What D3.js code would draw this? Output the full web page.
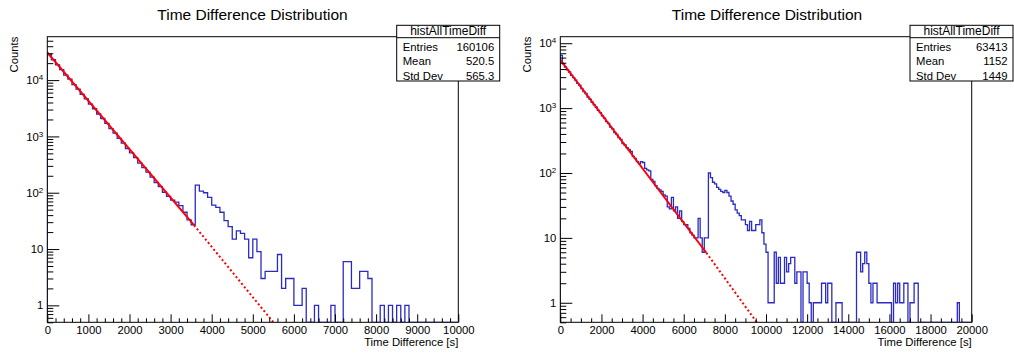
<!DOCTYPE html>
<html>
<head>
<meta charset="utf-8">
<script src="https://cdn.jsdelivr.net/npm/d3@7"></script>
<style>
  body { margin: 0; background: #fff; }
  text { font-family: "Liberation Sans", Arial, Helvetica, sans-serif; fill: #000; }
</style>
</head>
<body>
<svg id="chart" width="1014" height="354"></svg>
<script>
// histogram bins are 100 s wide
const binWidth = 100;

// left canvas: 100 bins, 0 - 10000 s
const leftCounts = [
  28500, 23000, 18600, 15400, 12300, 10400, 8300, 6900, 5600, 4650,
  3750, 3100, 2500, 2080, 1700, 1370, 1140, 920, 760, 610,
  510, 420, 335, 280, 232, 190, 152, 128, 102, 86,
  74, 68, 59, 45, 33, 27, 137, 107, 100, 83,
  60, 55, 45, 32, 25, 15, 21, 19, 15, 7,
  15, 9, 3, 4, 4, 4, 8, 2, 3, 3,
  1, 1, 2, 0, 0, 1, 0, 0, 0, 1,
  0, 0, 6, 6, 2, 2, 4, 4, 3, 0,
  0, 1, 0, 1, 0, 1, 0, 1, 0, 0,
  0, 0, 0, 0, 0, 0, 0, 0, 0, 0
];

// right canvas: 200 bins, 0 - 20000 s
const rightCounts = [
  6500, 4800, 4300, 3900, 3600, 3200, 2950, 2700, 2400, 2250,
  2000, 1800, 1680, 1480, 1370, 1230, 1120, 1030, 920, 850,
  760, 700, 620, 580, 510, 480, 420, 395, 350, 330,
  285, 270, 245, 230, 215, 180, 168, 150, 140, 150,
  145, 118, 112, 108, 80, 74, 64, 58, 55, 52,
  46, 44, 30, 28, 42, 26, 30, 20, 26, 18,
  16, 16, 14, 12, 11, 10, 10, 20, 10, 6,
  10, 10, 100, 85, 72, 68, 60, 56, 52, 50,
  54, 50, 44, 37, 33, 27, 24, 22, 19, 19,
  16, 13, 18, 13, 13, 16, 16, 19, 12, 8,
  6, 1, 1, 1, 6, 2, 5, 2, 2, 5,
  3, 4, 5, 5, 2, 3, 3, 0, 3, 3,
  2, 1, 0, 1, 1, 1, 1, 2, 2, 1,
  2, 2, 0, 0, 1, 1, 1, 0, 0, 0,
  0, 0, 0, 0, 6, 6, 3, 4, 6, 4,
  2, 1, 2, 2, 1, 1, 1, 1, 1, 1,
  1, 0, 2, 1, 2, 1, 1, 2, 2, 0,
  1, 1, 2, 2, 0, 0, 0, 0, 0, 0,
  0, 0, 0, 0, 0, 0, 0, 0, 0, 0,
  0, 0, 0, 1, 0, 0, 0, 0, 0, 0
];

// exponential fits (straight on log axis): fitted range solid, extension dotted
const leftFitSolid = [[0, 31000], [3570, 26.5]];
const leftFitDotted = [[3570, 26.5], [5500, 0.5]];
const rightFitSolid = [[0, 5550], [7100, 5.9]];
const rightFitDotted = [[7100, 5.9], [9550, 0.5]];

const statLabels = ["Entries", "Mean", "Std Dev"];
const leftStats = ["160106", "520.5", "565.3"];
const rightStats = ["63413", "1152", "1449"];

const leftXTicks = [0, 1000, 2000, 3000, 4000, 5000, 6000, 7000, 8000, 9000, 10000];
const rightXTicks = [0, 2000, 4000, 6000, 8000, 10000, 12000, 14000, 16000, 18000, 20000];
const yDecades = [1, 10, 100, 1000, 10000];

const histName = "histAllTimeDiff";
const titleText = "Time Difference Distribution";

const svg = d3.select('#chart');

function drawPanel(p) {
  let g = svg.append('g');
  let x = d3.scaleLinear().domain([0, p.xMax]).range([p.left, p.right]);
  let y = d3.scaleLog().domain([0.5, p.yMax]).range([p.bottom, p.top]);

  g.append('text')
    .attr('x', p.titleX).attr('y', 20)
    .attr('text-anchor', 'middle')
    .style('font-size', '15.5px')
    .text(titleText);

  svg.append('clipPath').attr('id', 'clip' + p.id)
    .append('rect')
    .attr('x', p.left).attr('y', p.top)
    .attr('width', p.right - p.left).attr('height', p.bottom - p.top);

  let plot = g.append('g').attr('clip-path', 'url(#clip' + p.id + ')');

  // histogram outline, empty bins drop to the frame bottom
  let yMin = y.domain()[0];
  let pts = [[x(0), y(yMin)]];
  p.counts.forEach((c, i) => {
    let yy = c > 0 ? y(c) : y(yMin);
    pts.push([x(i * binWidth), yy], [x((i + 1) * binWidth), yy]);
  });
  pts.push([x(p.counts.length * binWidth), y(yMin)]);

  plot.append('path')
    .attr('d', d3.line()(pts))
    .attr('fill', 'none')
    .attr('stroke', '#2a2ac4')
    .attr('stroke-width', 1.3);

  let fitLine = d3.line().x(d => x(d[0])).y(d => y(d[1]));
  plot.append('path')
    .attr('d', fitLine(p.fitSolid))
    .attr('fill', 'none').attr('stroke', '#ff0000').attr('stroke-width', 2);
  plot.append('path')
    .attr('d', fitLine(p.fitDotted))
    .attr('fill', 'none').attr('stroke', '#ff0000').attr('stroke-width', 2)
    .attr('stroke-dasharray', '2,2.4');

  // x axis: major + minor ticks pointing into the frame
  let xMinor = d3.range(0, p.xMax + 1, p.xMinorStep).filter(v => p.xTicks.indexOf(v) < 0);
  let xa = g.append('g').attr('transform', `translate(0,${p.bottom})`)
    .call(d3.axisBottom(x).tickValues(p.xTicks).tickSize(-8).tickSizeOuter(0).tickPadding(4).tickFormat(d3.format('d')));
  let xm = g.append('g').attr('transform', `translate(0,${p.bottom})`)
    .call(d3.axisBottom(x).tickValues(xMinor).tickSize(-4).tickSizeOuter(0).tickFormat(''));

  // y axis: decades + 2..9 minors
  let yMinor = [];
  [0.1, 1, 10, 100, 1000, 10000].forEach(d => {
    for (let m = 2; m <= 9; m++) {
      let v = m * d;
      if (v >= y.domain()[0] && v <= y.domain()[1]) yMinor.push(v);
    }
  });
  let ya = g.append('g').attr('transform', `translate(${p.left},0)`)
    .call(d3.axisLeft(y).tickValues(yDecades).tickSize(-12).tickSizeOuter(0).tickPadding(4).tickFormat(d => d));
  let ym = g.append('g').attr('transform', `translate(${p.left},0)`)
    .call(d3.axisLeft(y).tickValues(yMinor).tickSize(-6).tickSizeOuter(0).tickFormat(''));

  [xa, xm, ya, ym].forEach(a => {
    a.select('.domain').remove();
    a.selectAll('.tick line').attr('stroke', '#000');
    a.selectAll('.tick text').style('font-size', '11.3px').attr('font-family', null).attr('fill', '#000');
  });

  ya.selectAll('.tick text').each(function (d) {
    let e = Math.round(Math.log10(d));
    let t = d3.select(this);
    if (e >= 2) {
      t.text('10');
      t.append('tspan').attr('dy', '-0.5em').style('font-size', '8px').text(e);
    }
  });

  // frame
  g.append('rect')
    .attr('x', p.left).attr('y', p.top)
    .attr('width', p.right - p.left).attr('height', p.bottom - p.top)
    .attr('fill', 'none').attr('stroke', '#000').attr('stroke-width', 1);

  // axis titles
  g.append('text')
    .attr('transform', `translate(${p.countsX},${p.top}) rotate(-90)`)
    .attr('text-anchor', 'end')
    .style('font-size', '11.3px')
    .text('Counts');
  g.append('text')
    .attr('x', p.right).attr('y', 346)
    .attr('text-anchor', 'end')
    .style('font-size', '11.3px')
    .text('Time Difference [s]');

  // stats box
  let bx = p.boxX, by = 25.3, bw = 103, bh = 55.7;
  g.append('rect')
    .attr('x', bx).attr('y', by).attr('width', bw).attr('height', bh)
    .attr('fill', '#fff').attr('stroke', '#000').attr('stroke-width', 1);
  g.append('line')
    .attr('x1', bx).attr('x2', bx + bw).attr('y1', 37.7).attr('y2', 37.7)
    .attr('stroke', '#000');
  g.append('text')
    .attr('x', bx + bw / 2).attr('y', 35)
    .attr('text-anchor', 'middle')
    .style('font-size', '12px')
    .text(histName);
  statLabels.forEach((s, i) => {
    let base = 50.5 + i * 14.6;
    g.append('text').attr('x', bx + 6).attr('y', base).style('font-size', '11.3px').text(s);
    g.append('text').attr('x', bx + bw - 5.5).attr('y', base)
      .attr('text-anchor', 'end').style('font-size', '11.3px').text(p.stats[i]);
  });
}

drawPanel({
  id: 'L', counts: leftCounts, stats: leftStats,
  fitSolid: leftFitSolid, fitDotted: leftFitDotted,
  xMax: 10000, xTicks: leftXTicks, xMinorStep: 200,
  yMax: 59000,
  left: 47.3, right: 458.3, top: 36.7, bottom: 322.3,
  titleX: 252.5, countsX: 18.3, boxX: 396.7
});

drawPanel({
  id: 'R', counts: rightCounts, stats: rightStats,
  fitSolid: rightFitSolid, fitDotted: rightFitDotted,
  xMax: 20000, xTicks: rightXTicks, xMinorStep: 500,
  yMax: 12600,
  left: 560.3, right: 971.7, top: 36.7, bottom: 322.3,
  titleX: 767, countsX: 530.7, boxX: 910
});
</script>
</body>
</html>
